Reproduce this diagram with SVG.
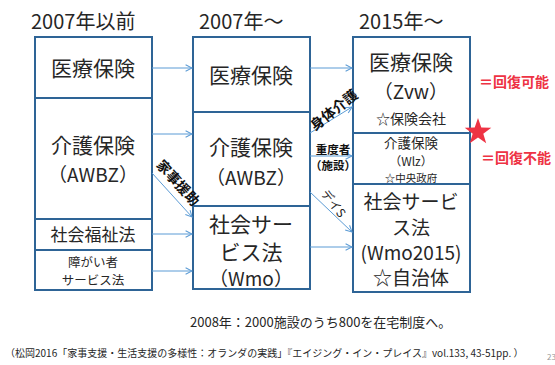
<svg xmlns="http://www.w3.org/2000/svg" width="555" height="365" viewBox="0 0 555 365">
<defs>
<style>
text{font-family:"Noto Sans CJK JP","Noto Sans",sans-serif;fill:#262626;text-anchor:middle}
.box{fill:#fff;stroke:#2e6496;stroke-width:2}
.t{font-size:20px;text-anchor:start}
.big{font-size:21px}
.mid{font-size:19px}
.lab{font-size:14px;font-weight:bold;fill:#111}
.red{font-size:14px;font-weight:bold;fill:#ee3344;text-anchor:start}
.con line{stroke:#5b9bd5;stroke-width:1;marker-end:url(#ah)}
</style>
<marker id="ah" viewBox="0 0 10 10" refX="9" refY="5" markerWidth="8" markerHeight="8" orient="auto" markerUnits="userSpaceOnUse">
<path d="M1,1 L9,5 L1,9" fill="none" stroke="#5b9bd5" stroke-width="1.3"/>
</marker>
</defs>
<rect width="555" height="365" fill="#fff"/>
<text class="t" x="31" y="29">2007年以前</text>
<text class="t" x="199" y="29">2007年～</text>
<text class="t" x="359" y="29">2015年～</text>

<g id="col1">
<g id="n-l-iryo"><rect class="box" x="35" y="37" width="117" height="61"/><text class="big" x="93" y="76">医療保険</text></g>
<g id="n-l-awbz"><rect class="box" x="35" y="98" width="117" height="121"/><text class="big" x="93" y="153">介護保険</text><text class="mid" x="93" y="182">（AWBZ）</text></g>
<g id="n-l-fukushi"><rect class="box" x="35" y="219" width="117" height="31"/><text style="font-size:17px" x="93" y="241">社会福祉法</text></g>
<g id="n-l-shogai"><rect class="box" x="35" y="250" width="117" height="40"/><text style="font-size:12.5px" x="93" y="267">障がい者</text><text style="font-size:12.5px" x="93" y="285">サービス法</text></g>
</g>

<g id="col2">
<g id="n-m-iryo"><rect class="box" x="193" y="37" width="117" height="75"/><text class="big" x="251" y="83">医療保険</text></g>
<g id="n-m-awbz"><rect class="box" x="193" y="112" width="117" height="94"/><text class="big" x="251" y="155">介護保険</text><text class="mid" x="251" y="185">（AWBZ）</text></g>
<g id="n-m-wmo"><rect class="box" x="193" y="206" width="117" height="83"/><text class="big" x="251" y="232">社会サー</text><text class="big" x="251" y="260">ビス法</text><text class="mid" x="251" y="286">（Wmo）</text></g>
</g>

<g id="col3">
<g id="n-r-zvw"><rect class="box" x="353" y="37" width="117" height="96"/><text class="big" x="411" y="70">医療保険</text><text class="mid" x="411" y="99">（Zvw）</text><text style="font-size:14px" x="411" y="124">☆保険会社</text></g>
<g id="n-r-wlz"><rect class="box" x="353" y="133" width="117" height="51"/><text style="font-size:13.5px" x="411" y="148">介護保険</text><text style="font-size:12px" x="411" y="166">（Wlz）</text><text style="font-size:10.5px" x="411" y="182">☆中央政府</text></g>
<g id="n-r-wmo"><rect class="box" x="353" y="184" width="117" height="108"/><text class="mid" x="411" y="209">社会サービ</text><text class="mid" x="411" y="235">ス法</text><text class="mid" x="411" y="260">(Wmo2015)</text><text class="mid" x="411" y="285">☆自治体</text></g>
</g>

<g id="connectors" class="con">
<line x1="152" y1="68" x2="192" y2="68"/>
<line x1="152" y1="134" x2="192" y2="134"/>
<line x1="152" y1="173" x2="192" y2="217"/>
<line x1="152" y1="234" x2="192" y2="234"/>
<line x1="152" y1="271" x2="192" y2="271"/>
<line x1="310" y1="68" x2="352" y2="68"/>
<line x1="310" y1="133" x2="352" y2="107"/>
<line x1="310" y1="156" x2="352" y2="156"/>
<line x1="310" y1="192" x2="352" y2="232"/>
<line x1="310" y1="247" x2="352" y2="247"/>
</g>

<g id="labels">
<text class="lab" x="178" y="188" transform="rotate(48 178 183)">家事援助</text>
<text class="lab" x="334" y="115" transform="rotate(-38 334 110)">身体介護</text>
<text class="lab" style="font-size:11.5px" x="333" y="154">重度者</text>
<text class="lab" style="font-size:11.5px" x="333" y="170">（施設）</text>
<text style="font-size:12px;fill:#222" x="334" y="208" transform="rotate(52 334 203)">デイS</text>
</g>

<g id="notes">
<text class="red" x="479" y="87">＝回復可能</text>
<text class="red" x="481" y="163">＝回復不能</text>
<polygon id="star" fill="#ee3344" points="478,118 481.3,127.5 491.3,127.7 483.3,133.7 486.2,143.3 478,137.5 469.8,143.3 472.7,133.7 464.7,127.7 474.7,127.5"/>
<text style="font-size:13px;text-anchor:start" x="190" y="327">2008年：2000施設のうち800を在宅制度へ。</text>
<text style="font-size:10px;text-anchor:start" x="5" y="357">（松岡2016「家事支援・生活支援の多様性：オランダの実践」『エイジング・イン・プレイス』vol.133,  43-51pp. ）</text>
<text style="font-size:8px;fill:#999;text-anchor:start" x="547" y="360">23</text>
</g>
</svg>
